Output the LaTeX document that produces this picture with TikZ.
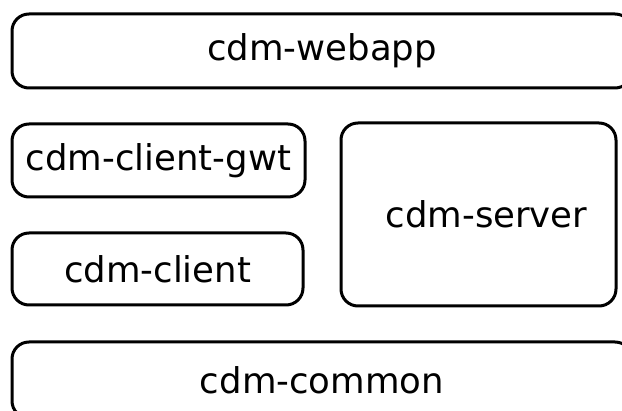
\documentclass[tikz,border=0pt]{standalone}
\usepackage{fontspec}
\setmainfont{DejaVu Sans}
\usepackage{tikz}
\tikzset{
MODULE/.style ={draw=black,rounded corners=17pt,line width=3pt,inner sep=0pt,
	font=\fontsize{35.5}{40}\selectfont},
}

\begin{document}
\begin{tikzpicture}[x=1pt,y=-1pt]
	\useasboundingbox (0,0) rectangle (622,411);
	\clip (0,0) rectangle (622,411);
	%top layer
	\node[MODULE, minimum width=620, minimum height=74] (webapp) at (322,51) {cdm-webapp};
	%client side
	\node[MODULE, minimum width=293, minimum height=73] (clientgwt) at (158.5,160.5) {cdm-client-gwt};
	\node[MODULE, minimum width=291, minimum height=72] (client) at (157.5,269) {cdm-client};
	%server side
	\node[MODULE, minimum width=275, minimum height=183] (server) at (478.5,214.5) {};
	\node[font=\fontsize{35.5}{40}\selectfont] (servertext) at ([xshift=8]server.center) {cdm-server};
	%bottom layer
	\node[MODULE, minimum width=620, minimum height=76] (common) at (322,380) {cdm-common};
\end{tikzpicture}
\end{document}
